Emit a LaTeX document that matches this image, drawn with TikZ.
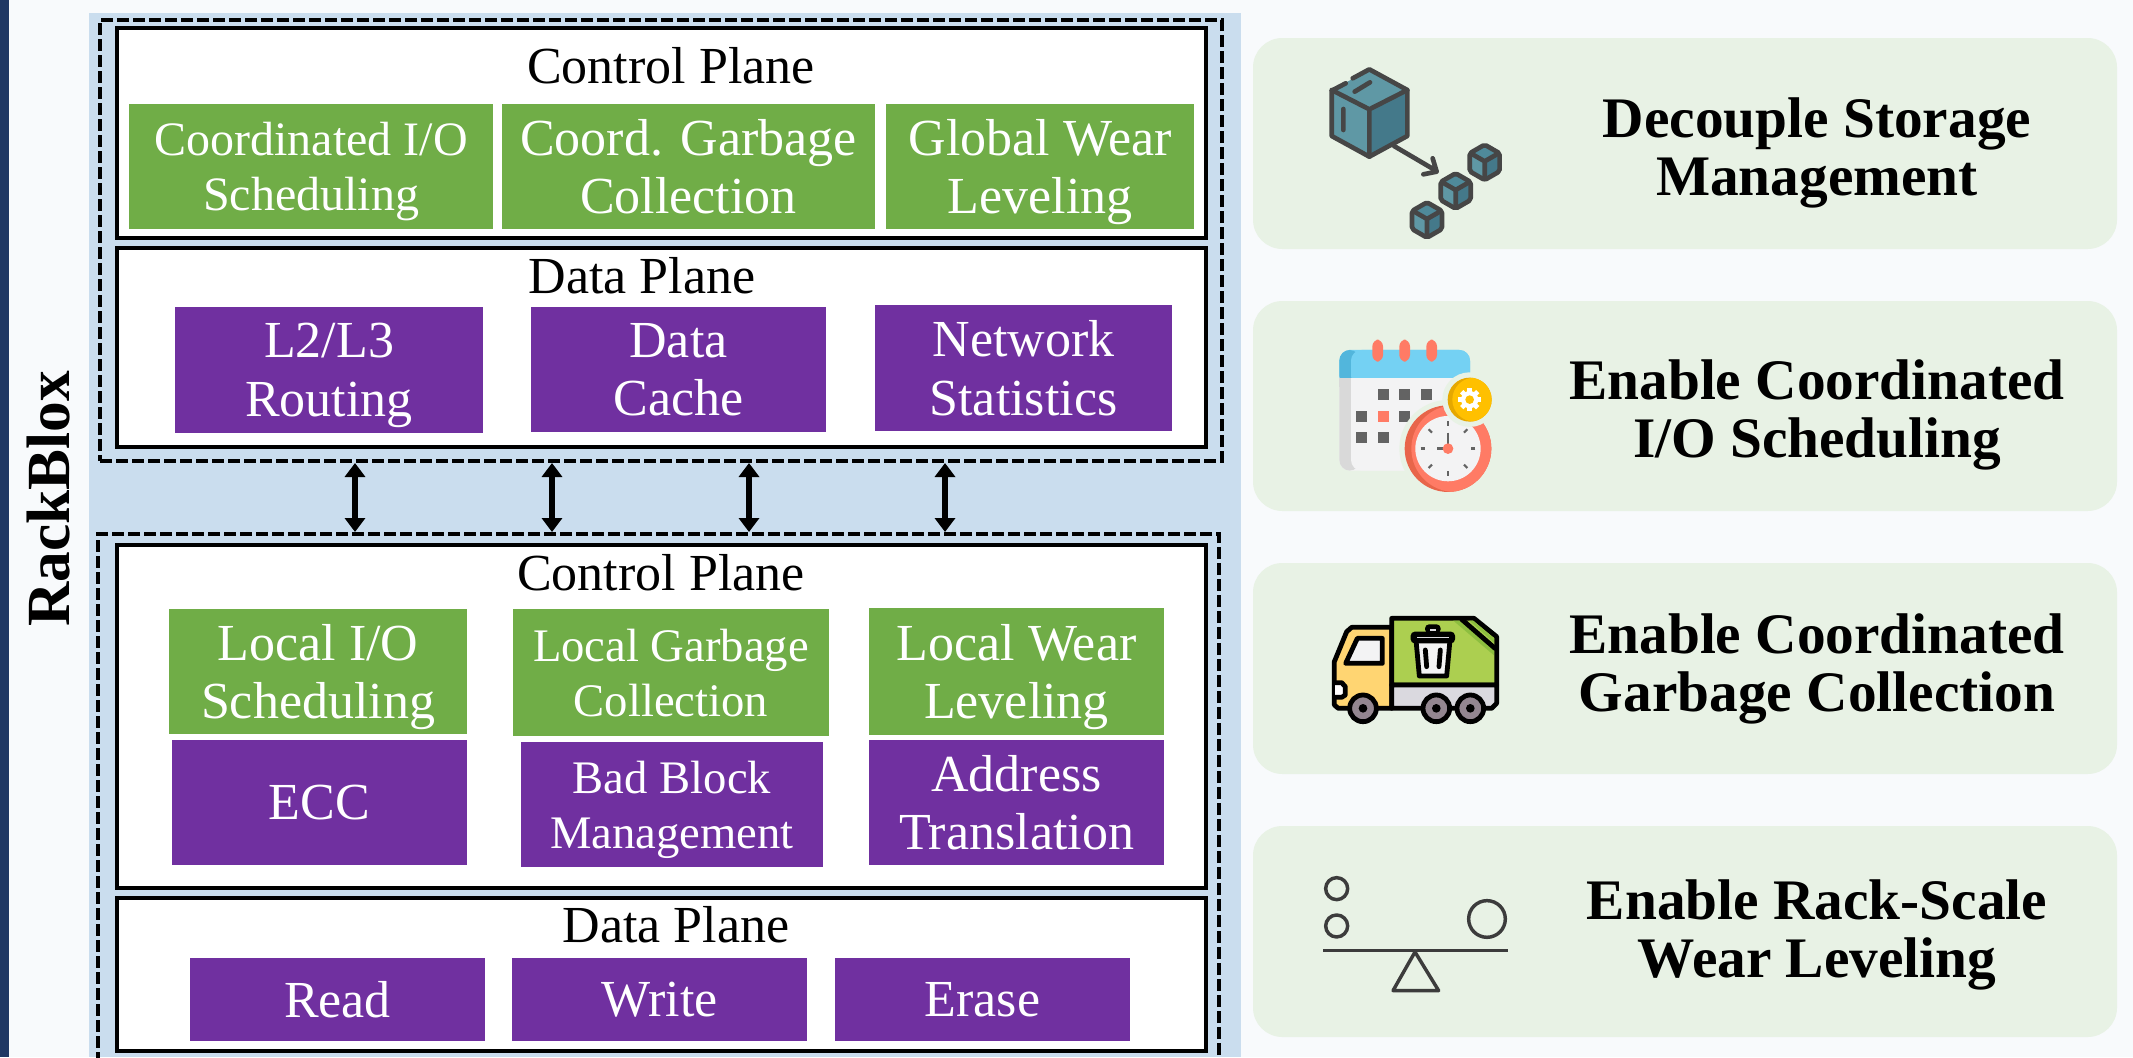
\documentclass[tikz,border=0pt]{standalone}
\usepackage{fontspec}
\setmainfont{Liberation Serif}
\usetikzlibrary{arrows.meta}
\definecolor{pagebg}{HTML}{F8FAFC}
\definecolor{barblue}{HTML}{1F3864}
\definecolor{panelblue}{HTML}{CADDEE}
\definecolor{cardgreen}{HTML}{E8F2E5}
\definecolor{boxgreen}{HTML}{70AD47}
\definecolor{boxpurple}{HTML}{7030A0}
\definecolor{cubedark}{HTML}{464646}
\definecolor{cubeleft}{HTML}{5F98A5}
\definecolor{cubetop}{HTML}{4F8A9A}
\definecolor{cuberight}{HTML}{44798A}
\definecolor{salmon}{HTML}{FF7B65}
\definecolor{salmondark}{HTML}{E8654A}
\definecolor{skyblue}{HTML}{74D1F3}
\definecolor{skydark}{HTML}{52B6DC}
\definecolor{squaregray}{HTML}{636363}
\definecolor{facegray}{HTML}{F3F3F4}
\definecolor{shadegray}{HTML}{D9D9D9}
\definecolor{gearyellow}{HTML}{FFC000}
\definecolor{geardark}{HTML}{E5A800}
\definecolor{truckgreen}{HTML}{ACCF50}
\definecolor{truckstripe}{HTML}{8DBE3F}
\definecolor{truckcab}{HTML}{FFD572}
\definecolor{truckbase}{HTML}{DAD9DF}
\definecolor{truckwheel}{HTML}{938690}
\definecolor{scalegray}{HTML}{3C3C3C}
\tikzset{
  planebox/.style={draw=black,line width=3pt,fill=white},
  halfbox/.style={draw=black,line width=3pt,dash pattern={on 9pt off 3pt},inner sep=0pt},
  greenbox/.style={fill=boxgreen},
  purplebox/.style={fill=boxpurple},
  boxtext/.style={text=white,align=center,inner sep=0pt,text depth=0pt,font=\fontsize{39}{44}\selectfont},
  smalltext/.style={text=white,align=center,inner sep=0pt,text depth=0pt,font=\fontsize{35}{41}\selectfont},
  planetitle/.style={inner sep=0pt,font=\fontsize{39}{44}\selectfont},
  cardbox/.style={fill=cardgreen,rounded corners=22pt},
  cardtext/.style={align=center,inner sep=0pt,font=\bfseries\fontsize{43}{44}\selectfont},
  duplex/.style={{Triangle[width=15pt,length=10.5pt]}-{Triangle[width=15pt,length=10.5pt]},line width=4.5pt},
  cubeline/.style={draw=cubedark,line width=3.5pt,line join=round,line cap=round},
  truckline/.style={draw=black,line width=3.6pt,line join=round,line cap=round},
  scaleline/.style={draw=scalegray,line width=2.6pt,line join=round}
}
\begin{document}
\begin{tikzpicture}[x=0.75pt,y=0.75pt,yscale=-1,xscale=1]
\useasboundingbox (0,0) rectangle (2133,1057);
\clip (0,0) rectangle (2133,1057);
% Background
\fill[pagebg] (0,0) rectangle (2133,1057);
\fill[barblue] (0,0) rectangle (8.5,1057);
\fill[panelblue] (89,13) rectangle (1241,1057);
% Dashed halves
\node (tophalf) [halfbox,minimum width=841.5pt,minimum height=330.75pt] at (661,240.5) {};
\node (bothalf) [halfbox,minimum width=840.75pt,minimum height=402pt] at (658.5,802) {};
% Plane frames
\draw[planebox] (117,28) rectangle (1206,238) node[midway] (ctrlframea) {};
\draw[planebox] (117,248) rectangle (1206,447) node[midway] (dataframea) {};
\draw[planebox] (117,545) rectangle (1206,888) node[midway] (ctrlframeb) {};
\draw[planebox] (117,898) rectangle (1206,1051) node[midway] (dataframeb) {};
% Plane titles
\node (ctrltitlea) [planetitle] at (671,66) {Control Plane};
\node (datatitlea) [planetitle] at (642,276) {Data Plane};
\node (ctrltitleb) [planetitle] at (661,573) {Control Plane};
\node (datatitleb) [planetitle] at (676,925) {Data Plane};
% Upper control plane
\fill[greenbox] (129,104) rectangle (493,229) node[midway,smalltext,font=\fontsize{36}{41}\selectfont] (coordio) {Coordinated I/O\\Scheduling};
\fill[greenbox] (502,104) rectangle (875,229) node[midway,boxtext] (coordgc) {Coord. Garbage\\Collection};
\fill[greenbox] (886,104) rectangle (1194,229) node[midway,boxtext] (globalwl) {Global Wear\\Leveling};
% Upper data plane
\fill[purplebox] (175,307) rectangle (483,433) node[midway,boxtext] (routing) {L2/L3\\Routing};
\fill[purplebox] (531,307) rectangle (826,432) node[midway,boxtext] (datacache) {Data\\Cache};
\fill[purplebox] (875,305) rectangle (1172,431) node[midway,boxtext] (netstats) {Network\\Statistics};
% Lower control plane
\fill[greenbox] (169,609) rectangle (467,734) node[midway,boxtext] (localio) {Local I/O\\Scheduling};
\fill[greenbox] (513,609) rectangle (829,736) node[midway,smalltext] (localgc) {Local Garbage\\Collection};
\fill[greenbox] (869,608) rectangle (1164,735) node[midway,boxtext] (localwl) {Local Wear\\Leveling};
\fill[purplebox] (172,740) rectangle (467,865) node[midway,boxtext] (ecc) {ECC};
\fill[purplebox] (521,742) rectangle (823,867) node[midway,smalltext] (badblock) {Bad Block\\Management};
\fill[purplebox] (869,740) rectangle (1164,865) node[midway,boxtext] (addrtrans) {Address\\Translation};
% Lower data plane
\fill[purplebox] (190,958) rectangle (485,1041) node[midway,boxtext] (readop) {Read};
\fill[purplebox] (512,958) rectangle (807,1041) node[midway,boxtext] (writeop) {Write};
\fill[purplebox] (835,958) rectangle (1130,1041) node[midway,boxtext] (eraseop) {Erase};
% Arrows between halves
\foreach \i/\xa in {1/355,2/552,3/749,4/945}{
  \coordinate (link\i) at (\xa,496);
  \draw[duplex] (tophalf.south -| link\i) -- (bothalf.north -| link\i);
}
% Side label
\node (rackname) [rotate=90,inner sep=0pt,font=\bfseries\fontsize{46}{46}\selectfont] at (49,499) {RackBlox};
% Cards
\fill[cardbox] (1253,38) rectangle (2117,249);
\fill[cardbox] (1253,301) rectangle (2117,511);
\fill[cardbox] (1253,563) rectangle (2117,774);
\fill[cardbox] (1253,826) rectangle (2117,1037);
\node (decouple) [cardtext] at (1817,153) {Decouple Storage\\Management};
\node (enableio) [cardtext] at (1817,415) {Enable Coordinated\\I/O Scheduling};
\node (enablegc) [cardtext] at (1817,669) {Enable Coordinated\\Garbage Collection};
\node (enablewl) [cardtext] at (1817,935) {Enable Rack-Scale\\Wear Leveling};
% Cube icon
\begin{scope}[shift={(1280,40)},scale=0.3333]
\fill[cubeleft] (268,208) -- (155,145) -- (155,290) -- (268,350) -- cycle;
\fill[cuberight] (268,208) -- (382,145) -- (382,290) -- (268,350) -- cycle;
\fill[cubeleft] (268,90) -- (382,150) -- (268,208) -- (155,150) -- cycle;
\draw[cubeline] (197,130) -- (155,152) -- (155,288) -- (268,350) -- (382,288) -- (382,150) -- (268,88) -- (218,115);
\draw[cubeline] (155,150) -- (268,208) -- (382,150) (268,208) -- (268,350);
\draw[cubeline] (224,155) -- (270,127) (190,207) -- (190,270);
\draw[cubeline] (342,318) -- (468,392) (458,355) -- (470,395) -- (430,403);
\foreach \cx/\cy in {614/367,527/453,441/540}{
  \begin{scope}[shift={(\cx,\cy)}]
  \fill[cubeleft] (0,-3) -- (-40,-26) -- (-40,26) -- (0,50) -- cycle;
  \fill[cuberight] (0,-3) -- (40,-26) -- (40,26) -- (0,50) -- cycle;
  \fill[cubetop] (0,-50) -- (40,-26) -- (0,-3) -- (-40,-26) -- cycle;
  \draw[cubeline,rounded corners=1.5pt] (0,-53) -- (45,-27) -- (45,27) -- (0,53) -- (-45,27) -- (-45,-27) -- cycle;
  \draw[cubeline] (-40,-26) -- (0,-3) -- (40,-26) (0,-3) -- (0,50);
  \end{scope}
}
\end{scope}
% Calendar icon
\begin{scope}[shift={(1280,40)},scale=0.3333]
\fill[facegray,rounded corners=8pt] (178,960) rectangle (570,1292);
\fill[shadegray,rounded corners=8pt] (178,1000) rectangle (240,1292);
\fill[facegray,rounded corners=8pt] (213,1000) rectangle (570,1292);
\fill[skyblue,rounded corners=8pt] (178,930) rectangle (570,1040);
\fill[skydark,rounded corners=8pt] (178,930) rectangle (240,1040);
\fill[skyblue,rounded corners=8pt] (213,930) rectangle (570,1040);
\fill[shadegray] (178,1015) rectangle (213,1040);
\fill[facegray] (213,1015) rectangle (570,1040);
\foreach \xa in {277,358,439}
  \fill[salmon,rounded corners=5pt] (\xa,899) rectangle (\xa+32,965);
\foreach \xa/\ya in {293/1047,358/1047,423/1047,228/1112,358/1112,228/1177,293/1177}
  \fill[squaregray] (\xa,\ya) rectangle (\xa+33,\ya+33);
\fill[salmon] (293,1112) rectangle (326,1145);
\fill[cardgreen] (504,1226) circle (146);
\fill[salmondark] (504,1226) circle (130);
\begin{scope}
\clip (504,1226) circle (130);
\fill[salmon] (524,1226) circle (130);
\end{scope}
\fill[facegray] (504,1226) circle (98);
\foreach \a in {0,45,...,315}
  \draw[squaregray,line width=1.7pt,shift={(504,1226)},rotate=\a] (0,-82) -- (0,-68);
\draw[squaregray,line width=1.7pt] (504,1178) -- (504,1226) -- (472,1226);
\fill[salmon] (504,1226) circle (16);
\fill[cardgreen] (569,1079) circle (82);
\fill[geardark] (569,1079) circle (66);
\begin{scope}
\clip (569,1079) circle (66);
\fill[gearyellow] (583,1079) circle (66);
\end{scope}
\foreach \a in {0,45,...,315}
  \fill[white,shift={(569,1079)},rotate=\a] (-7,-34) rectangle (7,-18);
\fill[white] (569,1079) circle (26);
\fill[gearyellow] (569,1079) circle (13);
\end{scope}
% Truck icon
\begin{scope}[shift={(1280,590)},scale=0.3333]
\filldraw[truckline,fill=truckcab] (335,112) -- (215,112) -- (200,125) -- (163,215) -- (163,345) -- (175,355) -- (335,355) -- cycle;
\filldraw[truckline,fill=truckgreen] (335,85) -- (582,85) -- (650,140) -- (650,285) -- (335,285) -- cycle;
\fill[truckstripe] (520,92) -- (545,92) -- (642,178) -- (642,196) -- cycle;
\fill[truckstripe] (568,92) -- (580,92) -- (642,145) -- (642,158) -- cycle;
\draw[truckline] (545,88) -- (645,175);
\filldraw[truckline,fill=truckbase] (335,285) -- (650,285) -- (650,340) -- (635,355) -- (335,355) -- cycle;
\filldraw[truckline,fill=facegray] (232,145) -- (307,145) -- (307,220) -- (197,220) -- cycle;
\filldraw[truckline,fill=white] (165,278) -- (185,278) -- (196,290) -- (196,315) -- (185,322) -- (165,322);
\foreach \xa in {249,469,571}{
  \filldraw[truckline,fill=truckwheel] (\xa,355) circle (40);
  \fill[black] (\xa,355) circle (13);
}
% Trash can
\filldraw[truckline,fill=facegray] (408,150) -- (510,150) -- (500,258) -- (418,258) -- cycle;
\fill[black,rounded corners=3pt] (392,125) rectangle (525,160);
\fill[black,rounded corners=3pt] (435,103) rectangle (482,130);
\fill[truckbase] (410,140) rectangle (508,144);
\fill[truckbase] (450,117) rectangle (467,122);
\draw[truckline] (436,180) -- (440,230) (481,180) -- (477,230);
\end{scope}
% Balance icon
\begin{scope}[shift={(1280,590)},scale=0.3333]
\draw[scaleline] (170,896) circle (33);
\draw[scaleline] (170,1008) circle (33);
\draw[scaleline] (621,987) circle (55);
\draw[scaleline] (130,1081) -- (685,1081);
\draw[scaleline] (405,1086) -- (339,1202) -- (476,1202) -- cycle;
\end{scope}
\end{tikzpicture}
\end{document}
